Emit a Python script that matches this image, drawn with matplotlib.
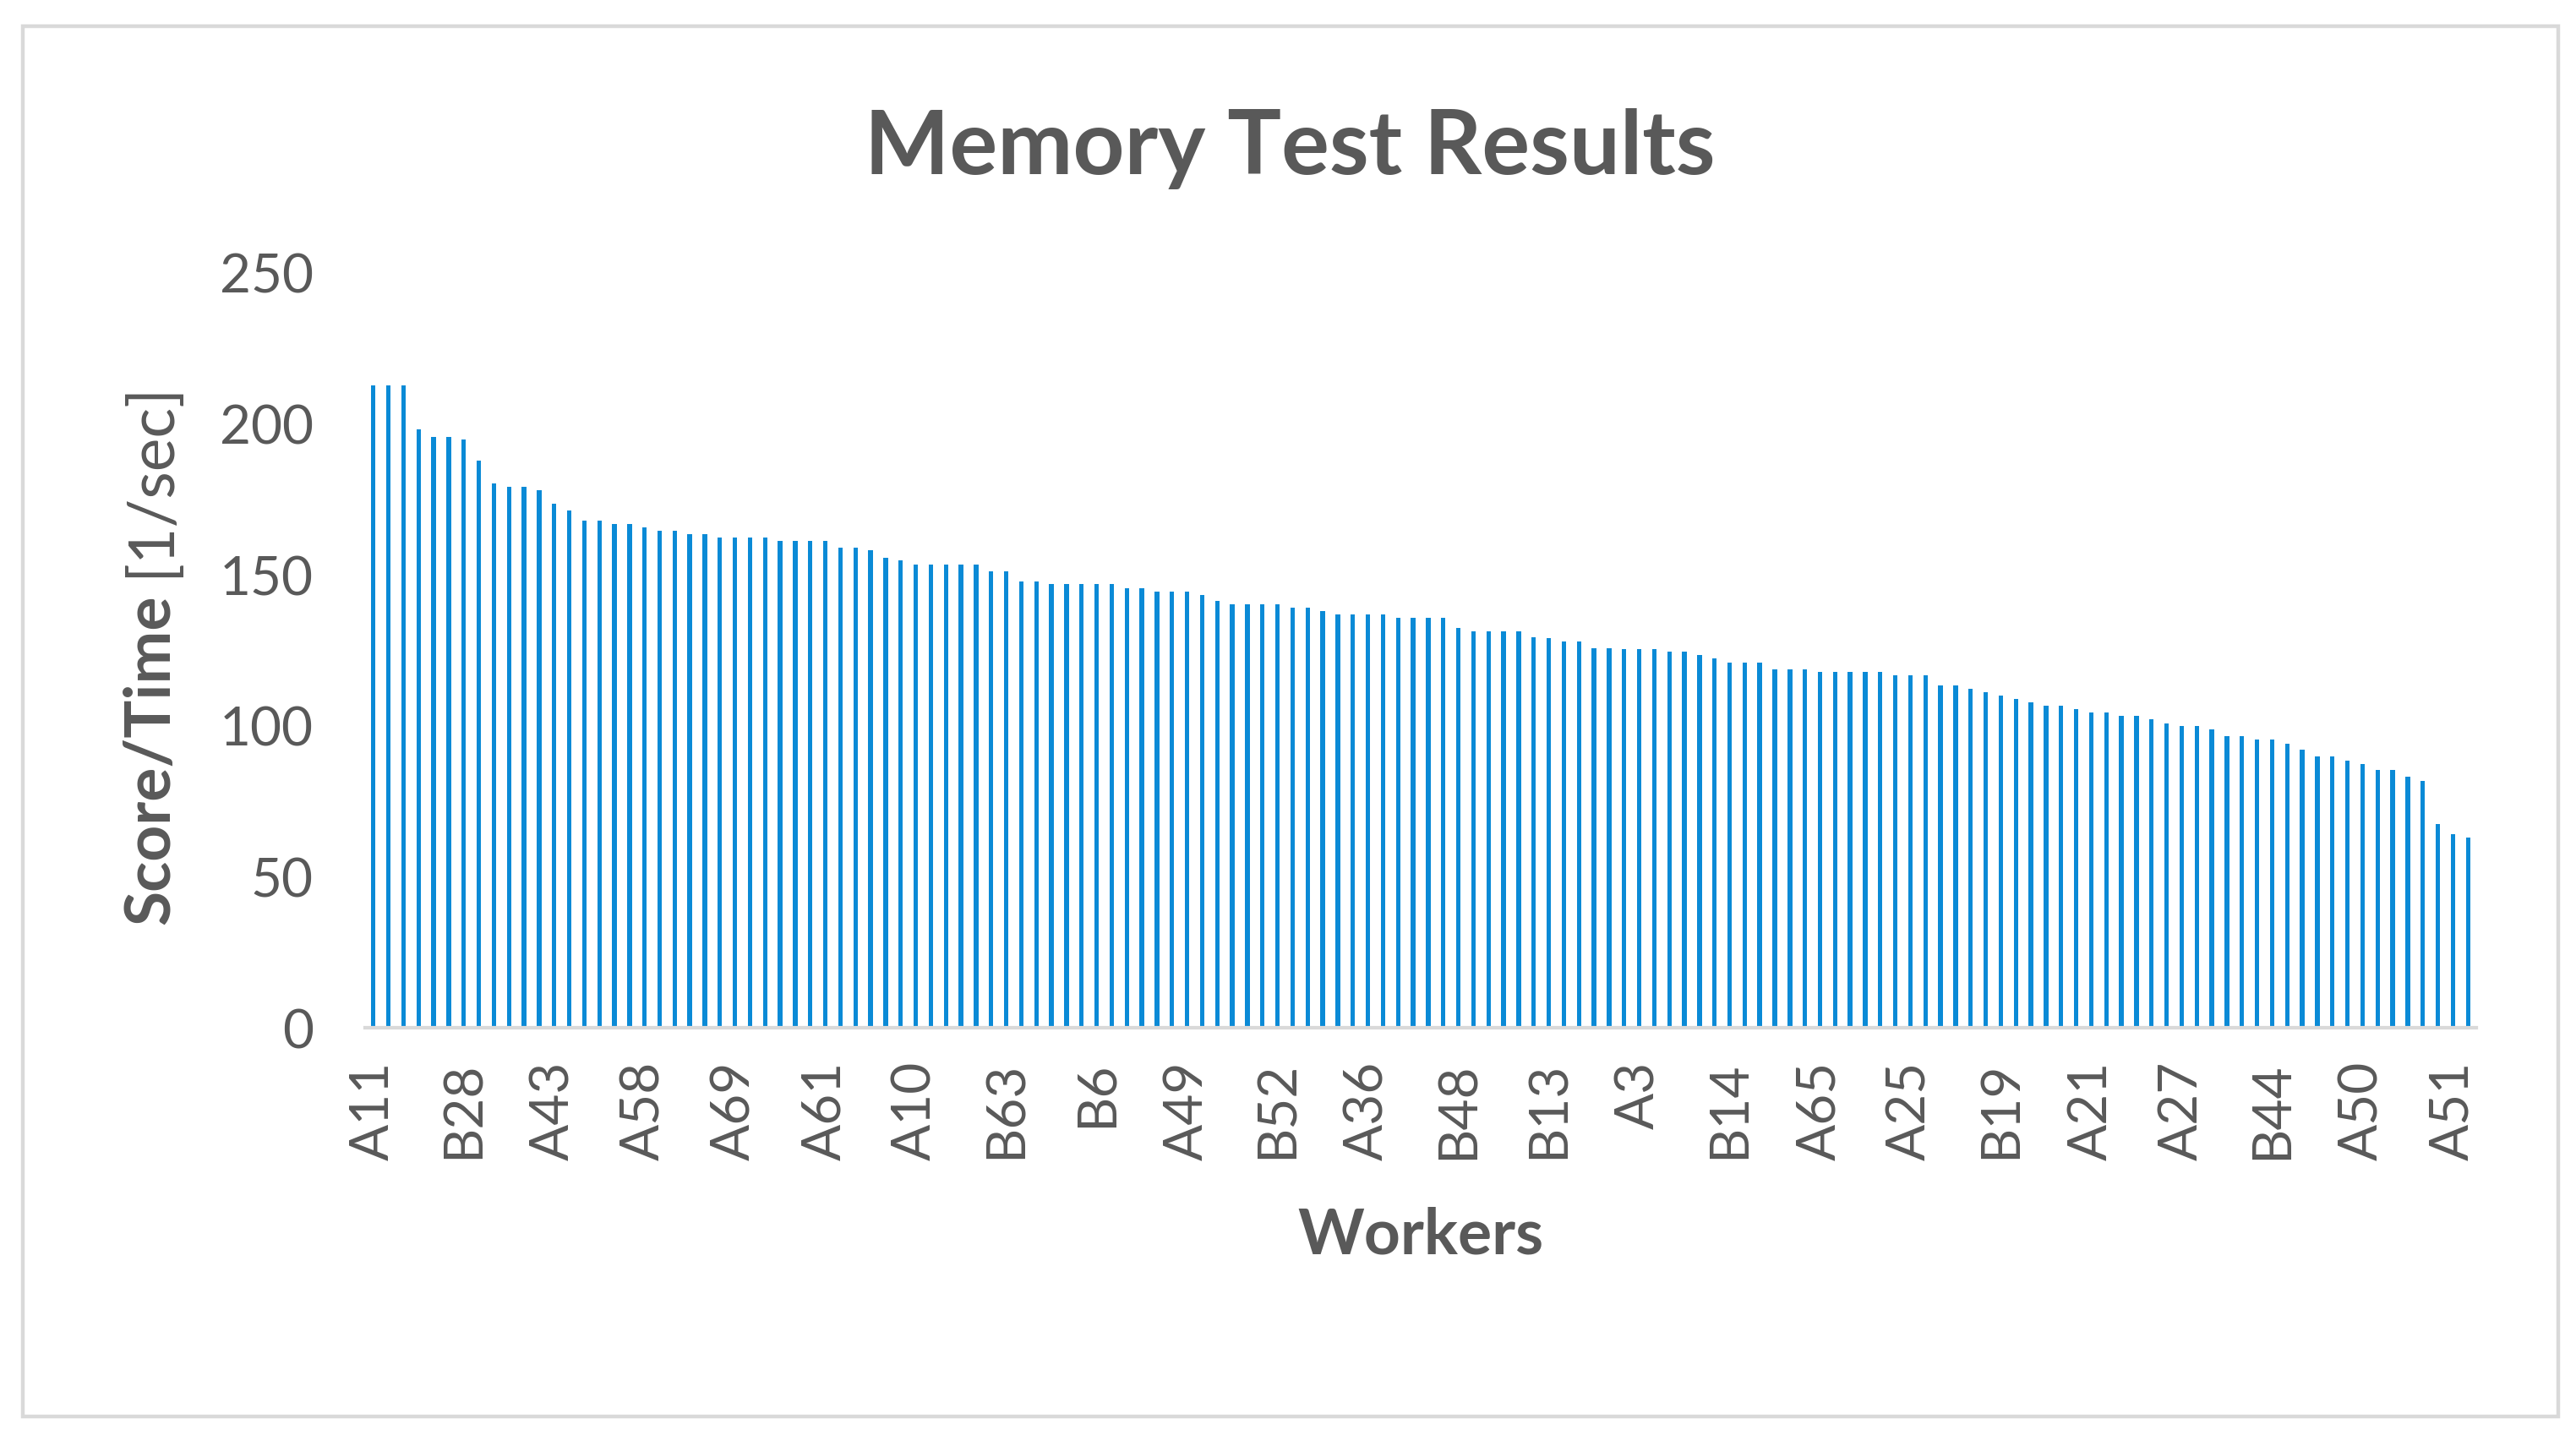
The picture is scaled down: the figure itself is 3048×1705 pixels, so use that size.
import matplotlib
matplotlib.use("Agg")
import matplotlib.pyplot as plt
from matplotlib.patches import Rectangle

plt.rcParams['font.family'] = ['Lato', 'DejaVu Sans']

# scores sorted high to low, one bar per worker (140 workers)
scores = [
    212.6, 212.6, 212.6, 198.0, 195.6, 195.6, 194.7, 187.7, 180.0, 179.1,
    179.1, 177.9, 173.5, 171.2, 167.7, 167.7, 166.8, 166.6, 165.6, 164.3,
    164.3, 163.4, 163.4, 162.3, 162.3, 162.3, 162.3, 161.2, 161.2, 161.2,
    161.2, 158.8, 158.8, 157.9, 155.6, 154.5, 153.3, 153.3, 153.3, 153.3,
    153.3, 151.1, 151.0, 147.7, 147.7, 146.7, 146.7, 146.7, 146.7, 146.7,
    145.3, 145.3, 144.4, 144.4, 144.4, 143.3, 141.2, 140.2, 140.2, 140.2,
    140.2, 139.0, 139.0, 137.9, 136.7, 136.7, 136.7, 136.7, 135.6, 135.6,
    135.6, 135.6, 132.3, 131.1, 131.1, 131.1, 131.1, 129.1, 128.8, 127.7,
    127.7, 125.6, 125.6, 125.3, 125.3, 125.3, 124.4, 124.4, 123.2, 122.1,
    120.9, 120.9, 120.9, 118.6, 118.6, 118.6, 117.6, 117.6, 117.6, 117.6,
    117.6, 116.5, 116.5, 116.5, 113.2, 113.2, 112.0, 110.9, 109.8, 108.7,
    107.6, 106.5, 106.5, 105.3, 104.4, 104.4, 103.2, 103.2, 102.0, 100.8,
    99.7, 99.7, 98.6, 96.5, 96.5, 95.3, 95.3, 94.1, 92.0, 89.7,
    89.7, 88.5, 87.3, 85.3, 85.3, 83.1, 81.8, 67.3, 64.0, 62.9,
]

# only every 6th worker name is printed on the axis
label_step = 6
shown_workers = ['A11', 'B28', 'A43', 'A58', 'A69', 'A61', 'A10', 'B63',
                 'B6', 'A49', 'B52', 'A36', 'B48', 'B13', 'A3', 'B14',
                 'A65', 'A25', 'B19', 'A21', 'A27', 'B44', 'A50', 'A51']
y_ticks = [0, 50, 100, 150, 200, 250]

text_col = '#595959'
bar_col = '#0A8AD6'

fig = plt.figure(figsize=(15.24, 8.53), dpi=200)

# light grey frame around the whole chart
fig.patches.append(Rectangle((0.009, 0.017), 0.984, 0.964, transform=fig.transFigure,
                             fill=False, edgecolor='#D9D9D9', linewidth=1.6))

ax = fig.add_axes([0.1417, 0.2866, 0.8196, 0.5241])
x = range(len(scores))
ax.bar(x, scores, width=0.3, color=bar_col)

ax.set_xlim(-0.55, len(scores) - 0.45)
ax.set_ylim(0, 250)
ax.set_yticks(y_ticks)
ax.set_yticklabels([str(v) for v in y_ticks])
ax.set_xticks(range(0, len(scores), label_step))
ax.set_xticklabels(shown_workers, rotation=90)
ax.tick_params(axis='both', length=0, labelsize=23, labelcolor=text_col)
ax.tick_params(axis='y', pad=22)
ax.tick_params(axis='x', pad=14)

for s in ['top', 'right', 'left']:
    ax.spines[s].set_visible(False)
ax.spines['bottom'].set_color('#D9D9D9')
ax.spines['bottom'].set_linewidth(1.5)

fig.text(0.5007, 0.897, 'Memory Test Results', ha='center', va='center',
         fontsize=38.3, fontweight='bold', color=text_col)
fig.text(0.5516, 0.143, 'Workers', ha='center', va='center',
         fontsize=27, fontweight='bold', color=text_col)

# y label: bold quantity, plain unit, read bottom to top
t1 = fig.text(0.0587, 0.359, 'Score/Time', ha='center', va='bottom', rotation=90,
              fontsize=27, fontweight='bold', color=text_col)
fig.canvas.draw()
bb = t1.get_window_extent().transformed(fig.transFigure.inverted())
fig.text(0.0587, bb.y1 + 0.012, '[1/sec]', ha='center', va='bottom', rotation=90,
         fontsize=27, color=text_col)

fig.savefig('out.png', dpi=200, facecolor='white')
